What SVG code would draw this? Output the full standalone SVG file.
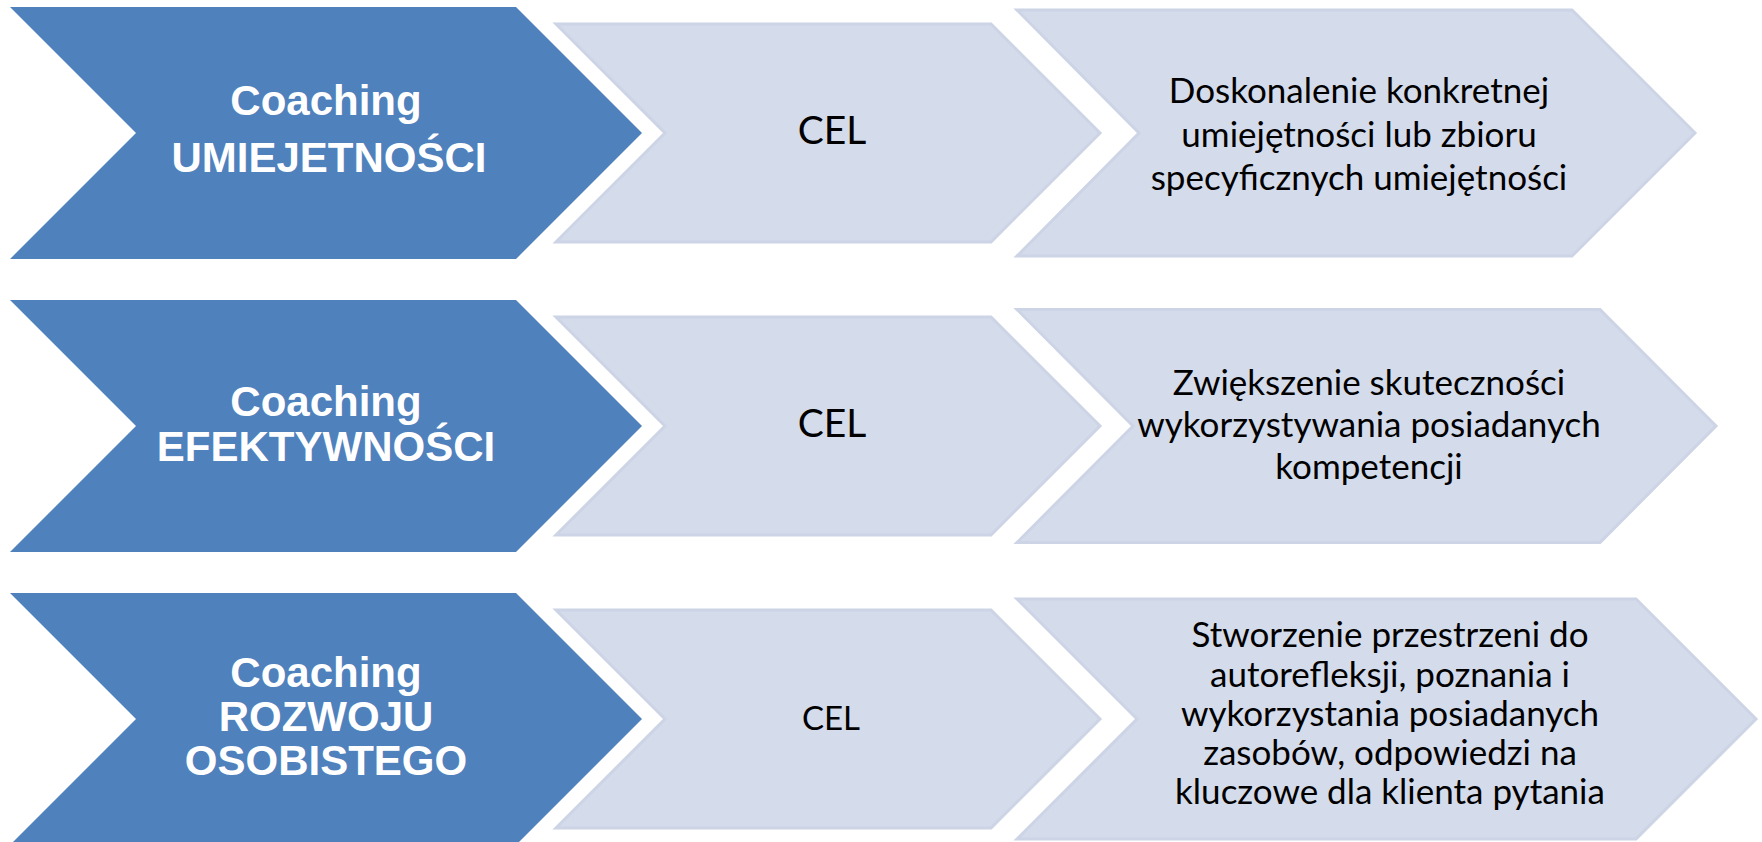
<svg xmlns="http://www.w3.org/2000/svg" width="1762" height="842" viewBox="0 0 1762 842">
<style>
.blue{fill:#4F81BD;}
.light{fill:#D4DBEA;stroke:#CCD4E6;stroke-width:3;stroke-linejoin:miter;}
.bt{font-family:"Liberation Sans",Arial,sans-serif;font-weight:bold;font-size:42px;fill:#FFFFFF;text-anchor:middle;}
.cel{font-family:Lato,"Liberation Sans",sans-serif;font-size:39px;fill:#000;text-anchor:middle;}
.dt{font-family:Lato,"Liberation Sans",sans-serif;font-size:35px;fill:#000;text-anchor:middle;}
</style>
<rect width="1762" height="842" fill="#FFFFFF"/>
<g id="connectors"></g>

<g id="row1-type">
<polygon class="blue" points="10,7 516,7 642,133 516,259 10,259 136,133"/>
<text class="bt" x="326" y="115">Coaching</text>
<text class="bt" x="329" y="172">UMIEJETNOŚCI</text>
</g>
<g id="row1-cel">
<polygon class="light" points="556,24 991,24 1100,133 991,242 556,242 665,133"/>
<text class="cel" x="832" y="144">CEL</text>
</g>
<g id="row1-goal">
<polygon class="light" points="1017,10 1572,10 1695,133 1572,256 1017,256 1139,133"/>
<text class="dt" x="1359" y="103">Doskonalenie konkretnej</text>
<text class="dt" x="1359" y="147">umiejętności lub zbioru</text>
<text class="dt" x="1359" y="190">specyficznych umiejętności</text>
</g>

<g id="row2-type">
<polygon class="blue" points="10,300 516,300 642,426 516,552 10,552 136,426"/>
<text class="bt" x="326" y="416">Coaching</text>
<text class="bt" x="326" y="461">EFEKTYWNOŚCI</text>
</g>
<g id="row2-cel">
<polygon class="light" points="556,317 991,317 1100,426 991,535 556,535 665,426"/>
<text class="cel" x="832" y="437">CEL</text>
</g>
<g id="row2-goal">
<polygon class="light" points="1017,309.5 1600,309.5 1716,426 1600,542.5 1017,542.5 1133,426"/>
<text class="dt" x="1369" y="395">Zwiększenie skuteczności</text>
<text class="dt" x="1369" y="437">wykorzystywania posiadanych</text>
<text class="dt" x="1369" y="479">kompetencji</text>
</g>

<g id="row3-type">
<polygon class="blue" points="10,593 516,593 642,719 516,845 10,845 136,719"/>
<text class="bt" x="326" y="687">Coaching</text>
<text class="bt" x="326" y="731">ROZWOJU</text>
<text class="bt" x="326" y="775">OSOBISTEGO</text>
</g>
<g id="row3-cel">
<polygon class="light" points="556,610 991,610 1100,719 991,828 556,828 665,719"/>
<text class="cel" x="831" y="730" style="font-size:33px">CEL</text>
</g>
<g id="row3-goal">
<polygon class="light" points="1017,599 1636,599 1756,719 1636,839 1017,839 1137,719"/>
<text class="dt" x="1390" y="647">Stworzenie przestrzeni do</text>
<text class="dt" x="1390" y="687">autorefleksji, poznania i</text>
<text class="dt" x="1390" y="726">wykorzystania posiadanych</text>
<text class="dt" x="1390" y="765">zasobów, odpowiedzi na</text>
<text class="dt" x="1390" y="804">kluczowe dla klienta pytania</text>
</g>
</svg>
